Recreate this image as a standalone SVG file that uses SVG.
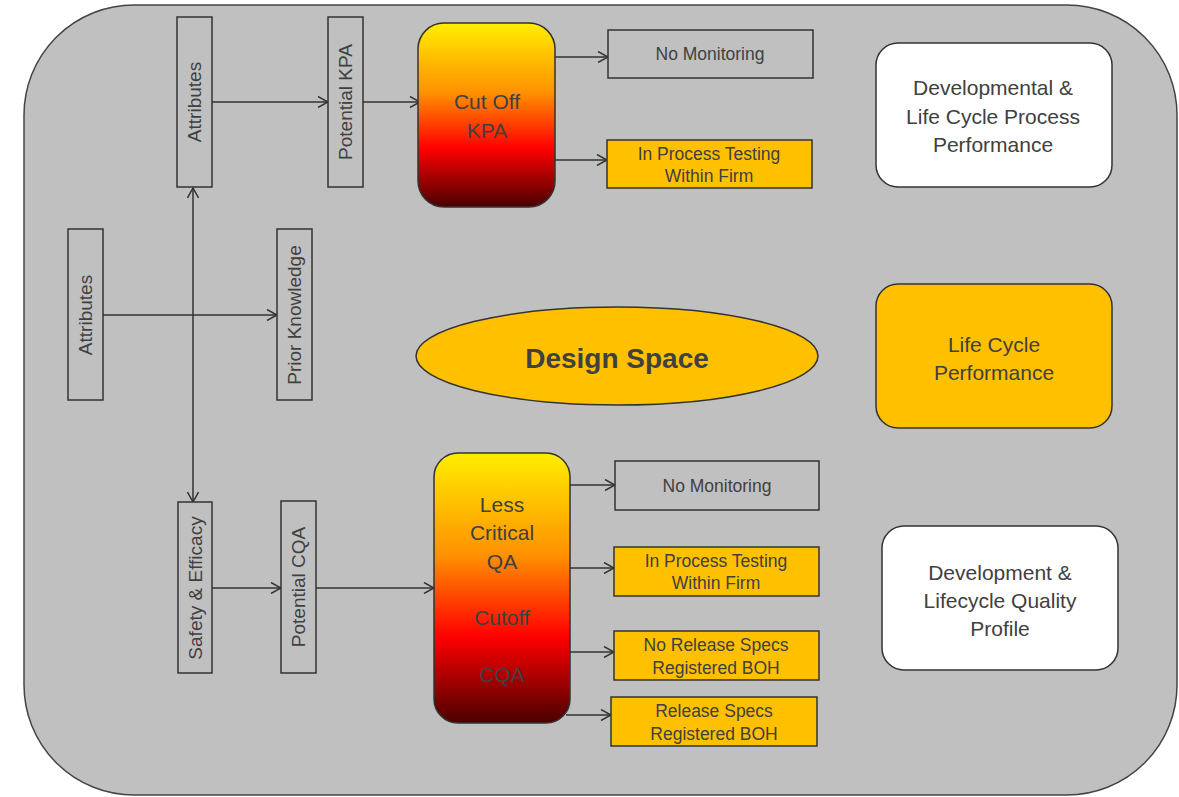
<svg xmlns="http://www.w3.org/2000/svg" width="1179" height="797" viewBox="0 0 1179 797">
  <defs>
    <linearGradient id="heat" x1="0" y1="0" x2="0" y2="1">
      <stop offset="0" stop-color="#ffee00"/>
      <stop offset="0.38" stop-color="#ff9000"/>
      <stop offset="0.68" stop-color="#ff0000"/>
      <stop offset="1" stop-color="#4a0000"/>
    </linearGradient>
    <marker id="arrow" viewBox="0 0 12 12" refX="11" refY="6" markerWidth="12" markerHeight="12" markerUnits="userSpaceOnUse" orient="auto">
      <path d="M1,0.5 L11,6 L1,11.5" fill="none" stroke="#333" stroke-width="1.5"/>
    </marker>
    <style>
      text { font-family: "Liberation Sans", Arial, sans-serif; fill: #404040; text-anchor: middle; dominant-baseline: central; }
      .frame { fill: #c0c0c0; stroke: #444; stroke-width: 1.5; }
      .box { fill: #c0c0c0; stroke: #333; stroke-width: 1.5; }
      .amber { fill: #ffc000; stroke: #333; stroke-width: 1.5; }
      .white { fill: #ffffff; stroke: #333; stroke-width: 1.5; }
      .heat { fill: url(#heat); stroke: #333; stroke-width: 1.5; }
      .v { font-size: 19px; }
      .s { font-size: 17.5px; }
      .m { font-size: 21px; }
      .conn line, .conn path { stroke: #333; stroke-width: 1.5; fill: none; }
    </style>
  </defs>

  <!-- outer panel -->
  <rect class="frame" x="24" y="5" width="1153" height="790" rx="110" ry="110"/>

  <!-- connectors -->
  <g class="conn">
    <line x1="212" y1="102" x2="328" y2="102" marker-end="url(#arrow)"/>
    <line x1="363" y1="102" x2="420" y2="102" marker-end="url(#arrow)"/>
    <line x1="555" y1="57" x2="608" y2="57" marker-end="url(#arrow)"/>
    <line x1="555" y1="160" x2="607" y2="160" marker-end="url(#arrow)"/>
    <line x1="103" y1="315" x2="277" y2="315" marker-end="url(#arrow)"/>
    <line x1="193" y1="315" x2="193" y2="188" marker-end="url(#arrow)"/>
    <line x1="193" y1="315" x2="193" y2="502" marker-end="url(#arrow)"/>
    <line x1="212" y1="588" x2="281" y2="588" marker-end="url(#arrow)"/>
    <line x1="316" y1="588" x2="434" y2="588" marker-end="url(#arrow)"/>
    <line x1="566" y1="485" x2="615" y2="485" marker-end="url(#arrow)"/>
    <line x1="570" y1="568" x2="614" y2="568" marker-end="url(#arrow)"/>
    <line x1="570" y1="652" x2="614" y2="652" marker-end="url(#arrow)"/>
    <line x1="566" y1="715" x2="611" y2="715" marker-end="url(#arrow)"/>
  </g>

  <!-- vertical label boxes -->
  <g id="attributes-top">
    <rect class="box" x="177" y="17" width="35" height="170"/>
    <text class="v" transform="translate(194.5,102) rotate(-90)">Attributes</text>
  </g>
  <g id="potential-kpa">
    <rect class="box" x="328" y="17" width="35" height="170"/>
    <text class="v" transform="translate(345.5,102) rotate(-90)">Potential KPA</text>
  </g>
  <g id="attributes-left">
    <rect class="box" x="68" y="229" width="35" height="171"/>
    <text class="v" transform="translate(85.5,315) rotate(-90)">Attributes</text>
  </g>
  <g id="prior-knowledge">
    <rect class="box" x="277" y="229" width="35" height="171"/>
    <text class="v" transform="translate(294.5,315) rotate(-90)">Prior Knowledge</text>
  </g>
  <g id="safety-efficacy">
    <rect class="box" x="178" y="502" width="34" height="171"/>
    <text class="v" transform="translate(195,588) rotate(-90)">Safety &amp; Efficacy</text>
  </g>
  <g id="potential-cqa">
    <rect class="box" x="281" y="501" width="35" height="172"/>
    <text class="v" transform="translate(298.5,587) rotate(-90)">Potential CQA</text>
  </g>

  <!-- cut-off boxes -->
  <g id="cutoff-kpa">
    <rect class="heat" x="418" y="23" width="137" height="184" rx="26" ry="26"/>
    <text class="m" x="487" y="101">Cut Off</text>
    <text class="m" x="487" y="130">KPA</text>
  </g>
  <g id="cutoff-cqa">
    <rect class="heat" x="434" y="453" width="136" height="270" rx="24" ry="24"/>
    <text class="m" x="502" y="504">Less</text>
    <text class="m" x="502" y="532">Critical</text>
    <text class="m" x="502" y="561">QA</text>
    <text class="m" x="502" y="617">Cutoff</text>
    <text class="m" x="502" y="674">CQA</text>
  </g>

  <!-- monitoring outcomes -->
  <g id="kpa-no-monitoring">
    <rect class="box" x="608" y="30" width="205" height="48"/>
    <text class="s" x="710" y="54">No Monitoring</text>
  </g>
  <g id="kpa-in-process">
    <rect class="amber" x="607" y="140" width="205" height="48"/>
    <text class="s" x="709" y="154">In Process Testing</text>
    <text class="s" x="709" y="176">Within Firm</text>
  </g>
  <g id="cqa-no-monitoring">
    <rect class="box" x="615" y="461" width="204" height="49"/>
    <text class="s" x="717" y="486">No Monitoring</text>
  </g>
  <g id="cqa-in-process">
    <rect class="amber" x="614" y="547" width="205" height="49"/>
    <text class="s" x="716" y="561">In Process Testing</text>
    <text class="s" x="716" y="583">Within Firm</text>
  </g>
  <g id="no-release-specs">
    <rect class="amber" x="614" y="631" width="205" height="49"/>
    <text class="s" x="716" y="645">No Release Specs</text>
    <text class="s" x="716" y="668">Registered BOH</text>
  </g>
  <g id="release-specs">
    <rect class="amber" x="611" y="697" width="206" height="49"/>
    <text class="s" x="714" y="711">Release Specs</text>
    <text class="s" x="714" y="734">Registered BOH</text>
  </g>

  <!-- design space -->
  <g id="design-space">
    <ellipse cx="617" cy="356" rx="201" ry="49" fill="#ffc000" stroke="#333" stroke-width="1.5"/>
    <text x="617" y="358" font-size="28" font-weight="bold">Design Space</text>
  </g>

  <!-- performance panels -->
  <g id="process-performance">
    <rect class="white" x="876" y="43" width="236" height="144" rx="22" ry="22"/>
    <text class="m" x="993" y="87">Developmental &amp;</text>
    <text class="m" x="993" y="116">Life Cycle Process</text>
    <text class="m" x="993" y="144">Performance</text>
  </g>
  <g id="life-cycle-performance">
    <rect class="amber" x="876" y="284" width="236" height="144" rx="22" ry="22"/>
    <text class="m" x="994" y="344">Life Cycle</text>
    <text class="m" x="994" y="372">Performance</text>
  </g>
  <g id="quality-profile">
    <rect class="white" x="882" y="526" width="236" height="144" rx="22" ry="22"/>
    <text class="m" x="1000" y="572">Development &amp;</text>
    <text class="m" x="1000" y="600">Lifecycle Quality</text>
    <text class="m" x="1000" y="628">Profile</text>
  </g>
</svg>
